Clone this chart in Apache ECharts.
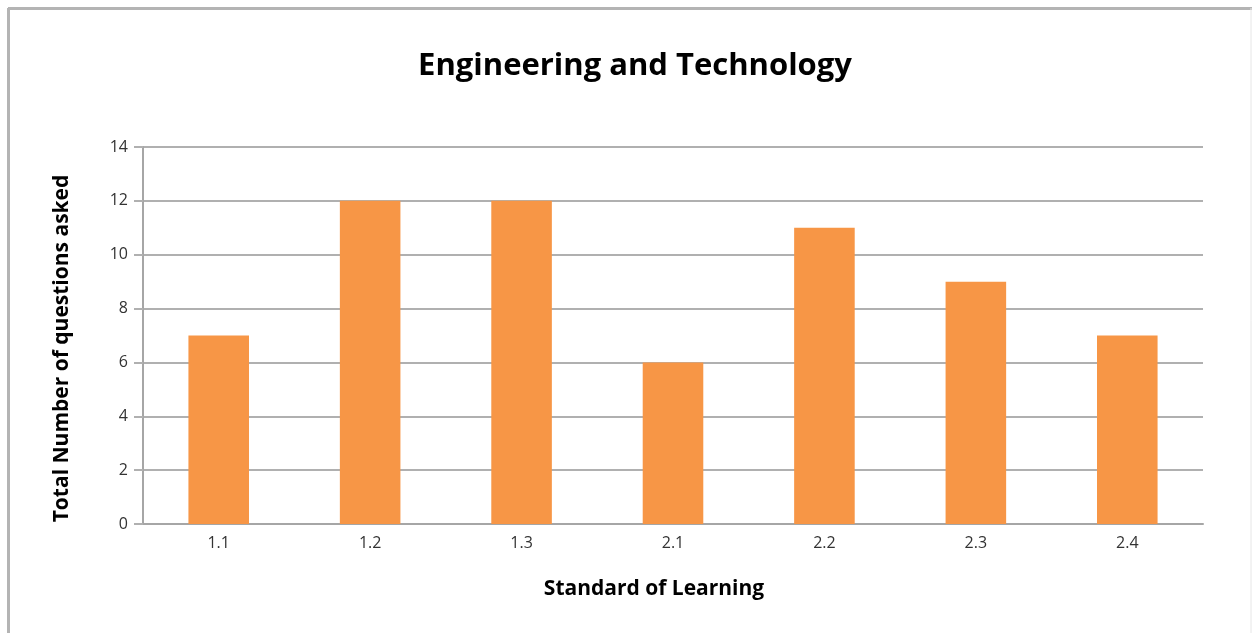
<!DOCTYPE html>
<html><head><meta charset="utf-8">
<script src="https://cdn.jsdelivr.net/npm/echarts@6/dist/echarts.min.js"></script>
<style>html,body{margin:0;padding:0;background:#fff}#c{width:1252px;height:633px}</style>
</head><body><div id="c"></div>
<script>
const categories = ['1.1','1.2','1.3','2.1','2.2','2.3','2.4'];
const values = [7, 12, 12, 6, 11, 9, 7];
const chart = echarts.init(document.getElementById('c'));
const font = '"Open Sans", "DejaVu Sans", sans-serif';
chart.setOption({
  animation: false,
  backgroundColor: '#fff',
  title: {
    text: 'Engineering and Technology', left: 630, top: 46, textAlign: 'center',
    textStyle: {fontFamily: font, fontWeight: 'bold', fontSize: 31, color: '#000'}
  },
  graphic: [
    {type: 'line', shape: {x1: 8.5, y1: 8, x2: 8.5, y2: 633}, style: {stroke: '#b4b4b4', lineWidth: 3}},
    {type: 'line', shape: {x1: 8, y1: 8.5, x2: 1252, y2: 8.5}, style: {stroke: '#b4b4b4', lineWidth: 3}},
    {type: 'line', shape: {x1: 1251, y1: 8, x2: 1251, y2: 633}, style: {stroke: '#e6e6e6', lineWidth: 1}}
  ],
  grid: {left: 143, right: 49, top: 147, bottom: 109},
  xAxis: {
    type: 'category', data: categories,
    name: 'Standard of Learning', nameLocation: 'middle', nameGap: 55,
    nameTextStyle: {fontFamily: font, fontWeight: 'bold', fontSize: 21, color: '#000', padding: [0, 38, 0, 0]},
    axisLine: {lineStyle: {color: '#a6a6a6', width: 2}},
    axisTick: {show: false},
    axisLabel: {fontFamily: font, fontSize: 16, color: '#333', margin: 11}
  },
  yAxis: {
    type: 'value', min: 0, max: 14, interval: 2,
    name: 'Total Number of questions asked', nameLocation: 'middle', nameGap: 70,
    nameTextStyle: {fontFamily: font, fontWeight: 'bold', fontSize: 21, color: '#000', padding: [0, 26, 0, 0]},
    axisLine: {show: true, lineStyle: {color: '#a6a6a6', width: 2}},
    axisTick: {show: true, length: 9, lineStyle: {color: '#b0b0b0', width: 2}},
    splitLine: {lineStyle: {color: '#b0b0b0', width: 2}},
    axisLabel: {fontFamily: font, fontSize: 16, color: '#333', margin: 15}
  },
  series: [{
    type: 'bar', data: values, barWidth: '40%',
    itemStyle: {color: '#F79646'}
  }]
});
</script></body></html>
